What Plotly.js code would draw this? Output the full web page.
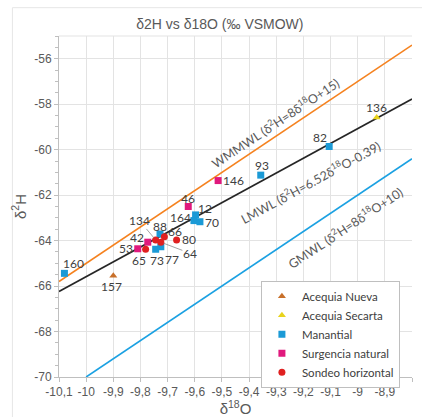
<!DOCTYPE html>
<html>
<head>
<meta charset="utf-8">
<script src="https://cdn.plot.ly/plotly-3.0.1.min.js"></script>
<style>
html,body{margin:0;padding:0;background:#fff;}
#chart{width:422px;height:417px;}
</style>
</head>
<body>
<div id="chart"></div>
<script>
// ---- data ----
const manantialX = [-10.08, -9.744, -9.728, -9.725, -9.597, -9.603, -9.581, -9.357, -9.105];
const manantialY = [-65.44, -64.38, -63.71, -64.27, -62.87, -63.12, -63.17, -61.12, -59.86];
const manantialLbl = ["160", "73", "88", "77", "12", "164", "70", "93", "82"];

const surgenciaX = [-9.81, -9.773, -9.624, -9.514];
const surgenciaY = [-64.36, -64.07, -62.50, -61.36];
const surgenciaLbl = ["53", "42", "46", "146"];

const sondeoX = [-9.781, -9.744, -9.725, -9.712, -9.667];
const sondeoY = [-64.38, -63.97, -64.07, -63.83, -63.97];
const sondeoLbl = ["65", "134", "64", "66", "80"];

const nuevaX = [-9.90];
const nuevaY = [-65.55];
const nuevaLbl = ["157"];

const secartaX = [-8.93];
const secartaY = [-58.58];
const secartaLbl = ["136"];

// meteoric water lines (end points)
const wmmwlX = [-10.1, -8.8];
const wmmwlY = [-65.8, -55.4];
const lmwlX = [-10.1, -8.8];
const lmwlY = [-66.24, -57.77];
const gmwlX = [-10.0, -8.8];
const gmwlY = [-70.0, -60.4];

const xTickVals = [-10.1, -10.0, -9.9, -9.8, -9.7, -9.6, -9.5, -9.4, -9.3, -9.2, -9.1, -9.0, -8.9, -8.8];
const xTickText = ["-10,1", "-10", "-9,9", "-9,8", "-9,7", "-9,6", "-9,5", "-9,4", "-9,3", "-9,2", "-9,1", "-9", "-8,9", "-8,8"];
const yTickVals = [-70, -68, -66, -64, -62, -60, -58, -56];
const yTickText = ["-70", "-68", "-66", "-64", "-62", "-60", "-58", "-56"];

// ---- label placement (pixel offsets, styling only) ----
const labelOffsets = {
  "160": [9, -10], "157": [-2, 11], "53": [-12, 0], "65": [-7, 11], "42": [-11, -5],
  "73": [1, 11], "77": [11, 13], "88": [0, -8], "134": [-16, -19], "66": [11, -5],
  "64": [29, 11], "80": [12, 0], "46": [0, -8], "12": [9, -6], "164": [-13, -3],
  "70": [12, 1], "146": [15, 0], "93": [1, -10], "82": [-9, -9], "136": [0, -10]
};
const leaderLabels = ["134", "64"];

const labelFont = {family: "Lato, 'Open Sans', sans-serif", size: 12, color: "#404040"};
const lineLabelFont = {family: "Lato, 'Open Sans', sans-serif", size: 12.5, color: "#595959"};

function pointTrace(name, xs, ys, symbol, color, size) {
  return {
    type: "scatter", mode: "markers", name: name, x: xs, y: ys,
    marker: {symbol: symbol, color: color, size: size, line: {width: 0}},
    hoverinfo: "x+y"
  };
}
function lineTrace(xs, ys, color) {
  return {type: "scatter", mode: "lines", x: xs, y: ys, showlegend: false,
          line: {color: color, width: 1.6}, hoverinfo: "skip"};
}

const traces = [
  lineTrace(wmmwlX, wmmwlY, "#F5821F"),
  lineTrace(lmwlX, lmwlY, "#262626"),
  lineTrace(gmwlX, gmwlY, "#1BA1E2"),
  pointTrace("Acequia Nueva", nuevaX, nuevaY, "triangle-up", "#C8702A", 7),
  pointTrace("Acequia Secarta", secartaX, secartaY, "triangle-up", "#E8D31C", 7),
  pointTrace("Manantial", manantialX, manantialY, "square", "#1B9AD6", 7),
  pointTrace("Surgencia natural", surgenciaX, surgenciaY, "square", "#E0197D", 7),
  pointTrace("Sondeo horizontal", sondeoX, sondeoY, "circle", "#E02020", 7)
];

const annotations = [];
function addLabels(xs, ys, lbls) {
  for (let i = 0; i < xs.length; i++) {
    const off = labelOffsets[lbls[i]] || [0, -10];
    const leader = leaderLabels.indexOf(lbls[i]) >= 0;
    if (leader) {
      annotations.push({
        x: xs[i], y: ys[i], xref: "x", yref: "y", text: lbls[i],
        showarrow: true, ax: off[0], ay: off[1],
        arrowhead: 0, arrowwidth: 0.8, arrowcolor: "#8c8c8c",
        standoff: 3, borderpad: 0, font: labelFont
      });
    } else {
      annotations.push({
        x: xs[i], y: ys[i], xref: "x", yref: "y", text: lbls[i],
        showarrow: false, xshift: off[0], yshift: -off[1],
        borderpad: 0, font: labelFont
      });
    }
  }
}
addLabels(nuevaX, nuevaY, nuevaLbl);
addLabels(secartaX, secartaY, secartaLbl);
addLabels(manantialX, manantialY, manantialLbl);
addLabels(surgenciaX, surgenciaY, surgenciaLbl);
addLabels(sondeoX, sondeoY, sondeoLbl);

annotations.push(
  {x: -9.305, y: -58.80, xref: "x", yref: "y", showarrow: false, textangle: -33.7,
   text: "WMMWL (δ<sup>2</sup>H=8δ<sup>18</sup>O+15)", font: lineLabelFont},
  {x: -9.173, y: -61.42, xref: "x", yref: "y", showarrow: false, textangle: -28.6,
   text: "LMWL (δ<sup>2</sup>H=6.52δ<sup>18</sup>O-0.39)", font: lineLabelFont},
  {x: -9.048, y: -63.44, xref: "x", yref: "y", showarrow: false, textangle: -33.7,
   text: "GMWL (δ<sup>2</sup>H=8δ<sup>18</sup>O+10)", font: lineLabelFont}
);

const axisFont = {family: "'Liberation Sans', Arial, sans-serif", size: 12, color: "#595959"};

const layout = {
  width: 422, height: 417,
  margin: {l: 59, r: 10, t: 36, b: 40, pad: 0},
  paper_bgcolor: "#ffffff", plot_bgcolor: "#ffffff",
  font: axisFont,
  title: {text: "δ2H vs δ18O (‰ VSMOW)", x: 0.521, xanchor: "center",
          y: 0.942, yanchor: "middle", yref: "container",
          font: {family: "'Liberation Sans', Arial, sans-serif", size: 14, color: "#595959"}},
  xaxis: {
    range: [-10.1, -8.8], tickvals: xTickVals, ticktext: xTickText,
    showgrid: true, gridcolor: "#e3e3e3", gridwidth: 1,
    zeroline: false, showline: true, linecolor: "#bfbfbf", linewidth: 1,
    ticks: "outside", ticklen: 4, tickcolor: "#bfbfbf",
    tickfont: axisFont, automargin: false,
    title: {text: "δ<sup>18</sup>O", standoff: 4,
            font: {family: "'Liberation Sans', Arial, sans-serif", size: 15, color: "#595959"}}
  },
  yaxis: {
    range: [-70, -55], tickvals: yTickVals, ticktext: yTickText,
    showgrid: true, gridcolor: "#e3e3e3", gridwidth: 1,
    zeroline: false, showline: true, linecolor: "#bfbfbf", linewidth: 1,
    ticks: "outside", ticklen: 4, tickcolor: "#bfbfbf",
    minor: {dtick: 0.5, tick0: -70, ticks: "outside", ticklen: 3, tickcolor: "#bfbfbf", showgrid: false},
    tickfont: axisFont, automargin: false,
    title: {text: "δ<sup>2</sup>H", standoff: 4,
            font: {family: "'Liberation Sans', Arial, sans-serif", size: 15, color: "#595959"}}
  },
  legend: {
    x: 0.572, y: 0.282, xanchor: "left", yanchor: "top",
    bgcolor: "#ffffff", bordercolor: "#bfbfbf", borderwidth: 1,
    font: {family: "Lato, 'Open Sans', sans-serif", size: 11.5, color: "#404040"},
    tracegroupgap: 0, itemsizing: "trace", itemwidth: 30
  },
  shapes: [
    {type: "line", xref: "paper", yref: "paper", x0: 0, x1: 1, y0: 1, y1: 1,
     line: {color: "#e3e3e3", width: 1}},
    {type: "rect", xref: "paper", yref: "paper", x0: -0.132, x1: 1.2, y0: -0.3, y1: 1.083,
     line: {color: "#e6e6e6", width: 1}, layer: "below"}
  ],
  annotations: annotations,
  showlegend: true,
  hovermode: "closest"
};

Plotly.newPlot("chart", traces, layout, {displayModeBar: false, staticPlot: true});
</script>
</body>
</html>
